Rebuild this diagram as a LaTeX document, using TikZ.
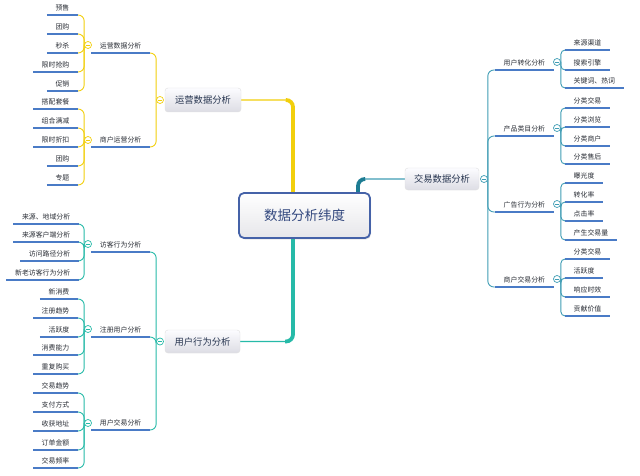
\documentclass[tikz,border=0pt]{standalone}
\usepackage{fontspec}
\setmainfont{Noto Sans CJK SC}
\usetikzlibrary{calc,shadows}
\definecolor{yl}{HTML}{F2CF0C}
\definecolor{tl}{HTML}{26BAA8}
\definecolor{rt}{HTML}{3F9DB5}
\definecolor{rtd}{HTML}{1D7C93}
\definecolor{ulb}{HTML}{4A7BC6}
\definecolor{txt}{HTML}{2A2E36}
\definecolor{ltxt}{HTML}{26344F}
\definecolor{ctxt}{HTML}{34497F}
\definecolor{cbord}{HTML}{4562A8}
\pgfdeclarelayer{bg}
\pgfsetlayers{bg,main}
\begin{document}
\begin{tikzpicture}[x=1pt,y=-1pt,
  ulline/.style={draw=ulb,line width=1.9},
  lfbase/.style={font=\fontsize{6.9}{8}\selectfont,text=txt,inner xsep=8.5pt,inner ysep=3.5pt,
    text height=5.6pt,text depth=1.2pt,
    append after command={(\tikzlastnode.south west) edge[ulline] (\tikzlastnode.south east)}},
  lfL/.style={lfbase,anchor=south east},
  lfR/.style={lfbase,anchor=south west},
  l1box/.style={rounded corners=3pt,draw=black!12,line width=0.4,top color=white!60!blue!3,bottom color=blue!12!gray!24,
    font=\fontsize{9.3}{11}\selectfont,text=ltxt,minimum width=76pt,minimum height=24pt,inner sep=1pt},
  ctrbox/.style={rounded corners=5pt,draw=cbord,line width=1.8,top color=white,bottom color=blue!8!gray!18,
    font=\fontsize{13.5}{16}\selectfont,text=ctxt,minimum width=131pt,minimum height=45pt,
    drop shadow={opacity=0.18,shadow xshift=1pt,shadow yshift=-1.5pt}},
  cmk/.style={circle,draw=#1,fill=white,minimum size=7pt,inner sep=0pt,line width=0.7,
    path picture={\draw[#1,line width=0.6] ([xshift=1.6pt]path picture bounding box.west) -- ([xshift=-1.6pt]path picture bounding box.east);}},
  br/.style={draw=#1,line width=0.9,rounded corners=6pt},
  brR/.style={draw=#1,line width=0.9,rounded corners=4.3pt},
  mthin/.style={draw=#1,line width=1.3,rounded corners=7pt},
  mthick/.style={draw=#1,line width=3.8,rounded corners=7pt}
]
\useasboundingbox (0,0) rectangle (640,476);
\begin{pgfonlayer}{bg}
\fill[white] (0,0) rectangle (640,476);
\end{pgfonlayer}

% centre and first level
\node[ctrbox] (ctr) at (304.5,215.5) {数据分析纬度};
\node[l1box] (op) at (203,100) {运营数据分析};
\node[l1box,minimum width=75pt,minimum height=23pt] (ub) at (202.5,341.5) {用户行为分析};
\node[l1box,minimum width=74pt,minimum height=22pt] (tx) at (442,179) {交易数据分析};
\coordinate (ytop) at (293,193);
\coordinate (tbot) at (293,238);
\coordinate (rtop) at (358,193);
\node[cmk=yl] (cop) at (160,100) {};
\node[cmk=tl] (cub) at (160,341.5) {};
\node[cmk=rt] (ctx) at (484,179) {};

\begin{pgfonlayer}{bg}
\draw[mthin=yl] (op.east) -| (ytop);
\draw[mthick=yl] ($(op.east)+(45,0)$) -| (ytop);
\draw[mthin=tl] (ub.east) -| (tbot);
\draw[mthick=tl] ($(ub.east)+(45,0)$) -| (tbot);
\draw[mthin=rt] (tx.west) -| (rtop);
\draw[mthick=rtd] ($(tx.west)+(-40,0)$) -| (rtop);
\end{pgfonlayer}

% ---------- yellow branch ----------
\node[lfL] (ya) at (150,53) {运营数据分析};
\node[lfL] (yb) at (150,147) {商户运营分析};
\node[cmk=yl] (cya) at (88,45) {};
\node[cmk=yl] (cyb) at (88,140) {};
\begin{pgfonlayer}{bg}
\draw[br=yl] (cop.west) |- (ya.south east);
\draw[br=yl] (cop.west) |- (yb.south east);
\end{pgfonlayer}
\foreach \t/\y [count=\i] in {预售/15,团购/34,秒杀/53,限时抢购/72,促销/91}{
  \node[lfL] (ya\i) at (78,\y) {\t};
  \begin{pgfonlayer}{bg}\draw[br=yl] (cya.west) |- (ya\i.south east);\end{pgfonlayer}
}
\foreach \t/\y [count=\i] in {搭配套餐/109,组合满减/128,限时折扣/147,团购/166,专题/185}{
  \node[lfL] (yb\i) at (78,\y) {\t};
  \begin{pgfonlayer}{bg}\draw[br=yl] (cyb.west) |- (yb\i.south east);\end{pgfonlayer}
}

% ---------- teal branch ----------
\node[lfL] (ta) at (150,252) {访客行为分析};
\node[lfL] (tb) at (150,337) {注册用户分析};
\node[lfL] (tc) at (150,430) {用户交易分析};
\node[cmk=tl] (cta) at (88,244) {};
\node[cmk=tl] (ctb) at (88,329) {};
\node[cmk=tl] (ctc) at (88,423) {};
\begin{pgfonlayer}{bg}
\draw[br=tl] (cub.west) |- (ta.south east);
\draw[br=tl] (cub.west) |- (tb.south east);
\draw[br=tl] (cub.west) |- (tc.south east);
\end{pgfonlayer}
\foreach \t/\y [count=\i] in {来源、地域分析/224,来源客户端分析/242,访问路径分析/261,新老访客行为分析/280}{
  \node[lfL] (ta\i) at (79,\y) {\t};
  \begin{pgfonlayer}{bg}\draw[br=tl] (cta.west) |- (ta\i.south east);\end{pgfonlayer}
}
\foreach \t/\y [count=\i] in {新消费/299,注册趋势/318,活跃度/337,消费能力/355,重复购买/374}{
  \node[lfL] (tb\i) at (78,\y) {\t};
  \begin{pgfonlayer}{bg}\draw[br=tl] (ctb.west) |- (tb\i.south east);\end{pgfonlayer}
}
\foreach \t/\y [count=\i] in {交易趋势/393,支付方式/412,收获地址/431,订单金额/450,交易频率/468}{
  \node[lfL] (tc\i) at (78,\y) {\t};
  \begin{pgfonlayer}{bg}\draw[br=tl] (ctc.west) |- (tc\i.south east);\end{pgfonlayer}
}

% ---------- right branch ----------
\node[lfR] (ra) at (495,70) {用户转化分析};
\node[lfR] (rb) at (495,136) {产品类目分析};
\node[lfR] (rc) at (495,212) {广告行为分析};
\node[lfR] (rd) at (495,287) {商户交易分析};
\node[cmk=rt] (cra) at (557,62) {};
\node[cmk=rt] (crb) at (557,128) {};
\node[cmk=rt] (crc) at (557,204) {};
\node[cmk=rt] (crd) at (557,279) {};
\begin{pgfonlayer}{bg}
\draw[br=rt] (ctx.east) |- (ra.south west);
\draw[br=rt] (ctx.east) |- (rb.south west);
\draw[br=rt] (ctx.east) |- (rc.south west);
\draw[br=rt] (ctx.east) |- (rd.south west);
\end{pgfonlayer}
\foreach \t/\y [count=\i] in {来源渠道/50,搜索引擎/70,关键词、热词/88}{
  \node[lfR] (ra\i) at (565,\y) {\t};
  \begin{pgfonlayer}{bg}\draw[brR=rt] (cra.east) |- (ra\i.south west);\end{pgfonlayer}
}
\foreach \t/\y [count=\i] in {分类交易/108,分类浏览/127,分类商户/146,分类售后/164}{
  \node[lfR] (rb\i) at (565,\y) {\t};
  \begin{pgfonlayer}{bg}\draw[brR=rt] (crb.east) |- (rb\i.south west);\end{pgfonlayer}
}
\foreach \t/\y [count=\i] in {曝光度/183,转化率/202,点击率/221,产生交易量/240}{
  \node[lfR] (rc\i) at (565,\y) {\t};
  \begin{pgfonlayer}{bg}\draw[brR=rt] (crc.east) |- (rc\i.south west);\end{pgfonlayer}
}
\foreach \t/\y [count=\i] in {分类交易/259,活跃度/278,响应时效/297,贡献价值/316}{
  \node[lfR] (rd\i) at (565,\y) {\t};
  \begin{pgfonlayer}{bg}\draw[brR=rt] (crd.east) |- (rd\i.south west);\end{pgfonlayer}
}
\end{tikzpicture}
\end{document}
